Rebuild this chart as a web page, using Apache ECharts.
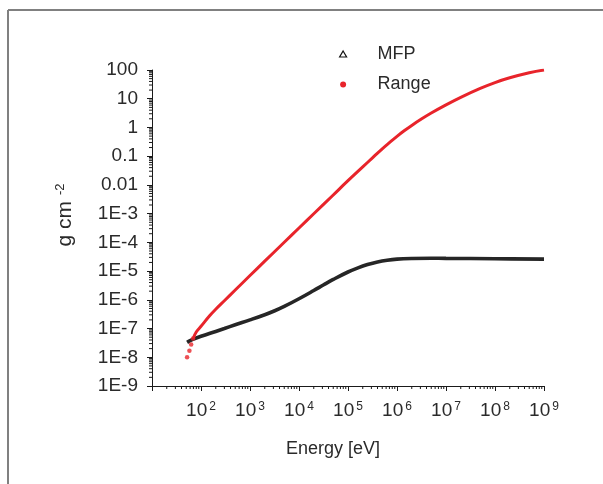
<!DOCTYPE html>
<html><head><meta charset="utf-8">
<script src="https://cdn.jsdelivr.net/npm/echarts@6/dist/echarts.min.js"></script>
<style>html,body{margin:0;padding:0;background:#fff}#c{width:603px;height:484px}</style>
</head><body><div id="c"></div><script>
// ---- data ----
const energyRange = [52, 58, 63, 69, 80, 100, 150, 200, 300, 500, 700, 1e3, 2e3, 5e3, 1e4, 2e4, 5e4, 1e5, 2e5, 3.2e5, 5e5, 7e5, 1e6, 1.4e6, 2e6, 3.2e6, 5e6, 1e7, 2e7, 5e7, 1e8, 2e8, 5e8, 1e9];
const rangeValues = [1.0e-8, 1.7e-8, 2.8e-8, 4.5e-8, 7.6e-8, 1.2e-7, 2.8e-7, 4.7e-7, 9.3e-7, 2.19e-6, 3.85e-6, 7.0e-6, 2.21e-5, 1.01e-4, 3.16e-4, 9.9e-4, 4.47e-3, 1.4e-2, 4.23e-2, 0.0895, 0.18, 0.295, 0.49, 0.764, 1.18, 2.0, 3.18, 6.12, 11.2, 22.9, 36.6, 53.6, 80.4, 100];
const rangeSparseCount = 4; // first low-energy points appear as separate dots

const energyMfp = [52, 60, 70, 100, 200, 300, 500, 1e3, 2e3, 3.2e3, 5e3, 1e4, 2e4, 3.2e4, 5e4, 1e5, 1.6e5, 2.5e5, 4e5, 6.3e5, 1e6, 2e6, 5e6, 1e7, 1e8, 1e9];
const mfpValues = [3.31e-8, 3.8e-8, 4.27e-8, 5.37e-8, 7.94e-8, 1.0e-7, 1.35e-7, 2.0e-7, 3.03e-7, 4.17e-7, 5.9e-7, 1.09e-6, 2.11e-6, 3.35e-6, 5.12e-6, 9.3e-6, 1.30e-5, 1.69e-5, 2.09e-5, 2.40e-5, 2.61e-5, 2.74e-5, 2.79e-5, 2.77e-5, 2.70e-5, 2.60e-5];

const seriesNames = ['MFP', 'Range'];
const yTickLabels = ['1E-9', '1E-8', '1E-7', '1E-6', '1E-5', '1E-4', '1E-3', '0.01', '0.1', '1', '10', '100'];
const xTickExponents = ['', '2', '3', '4', '5', '6', '7', '8', '9']; // for 10^1 .. 10^9
const xMin = 10, xMax = 1e9, yMin = 1e-9, yMax = 100;

// minor tick positions (2..9 within each decade)
const minorMult = [2, 3, 4, 5, 6, 7, 8, 9];
const minorX = [], minorY = [];
for (let d = 1; d < 9; d++) minorMult.forEach(m => minorX.push(m * Math.pow(10, d)));
for (let d = -9; d < 2; d++) minorMult.forEach(m => minorY.push(m * Math.pow(10, d)));

const FONT = '"Liberation Sans", Arial, sans-serif';
const RED = '#e8242b', BLACK = '#262626', TXT = '#2a2a2a';

const chart = echarts.init(document.getElementById('c'), null, {renderer: 'canvas'});
const zip = (a, b) => a.map((v, i) => [v, b[i]]);

chart.setOption({
  animation: false,
  backgroundColor: '#fff',
  grid: {left: 152, right: 59, top: 70, bottom: 98},
  legend: {
    orient: 'vertical', left: 334, top: 39,
    itemWidth: 7, itemHeight: 6, itemGap: 10.5, symbolKeepAspect: true,
    textStyle: {fontFamily: FONT, fontSize: 18, lineHeight: 20, color: TXT, padding: [0, 0, 0, 26]},
    data: [
      {name: seriesNames[0], icon: 'triangle', itemStyle: {color: '#fff', borderColor: '#111', borderWidth: 1.2}},
      {name: seriesNames[1], icon: 'circle', itemStyle: {color: RED, borderWidth: 0}}
    ]
  },
  xAxis: {
    type: 'log', logBase: 10, min: xMin, max: xMax, interval: 1,
    name: 'Energy [eV]', nameLocation: 'middle', nameGap: 54,
    nameTextStyle: {fontFamily: FONT, fontSize: 18, color: TXT, padding: [0, 30, 0, 0]},
    axisLine: {lineStyle: {color: '#1a1a1a', width: 1}},
    axisTick: {show: true, length: 5, inside: false, lineStyle: {color: '#1a1a1a'}},
    splitLine: {show: false},
    axisLabel: {
      margin: 15, color: TXT,
      formatter: v => {
        const e = Math.round(Math.log10(v));
        const s = xTickExponents[e - 1];
        return s ? '{b|10}{s|' + s + '}' : '';
      },
      rich: {
        b: {fontFamily: FONT, fontSize: 19, lineHeight: 20, color: TXT},
        s: {fontFamily: FONT, fontSize: 12, lineHeight: 20, verticalAlign: 'top', color: TXT, padding: [0, 0, 0, 2]}
      }
    }
  },
  yAxis: {
    type: 'log', logBase: 10, min: yMin, max: yMax, interval: 1,
    axisLine: {lineStyle: {color: '#1a1a1a', width: 1}},
    axisTick: {show: true, length: 5, inside: false, lineStyle: {color: '#1a1a1a'}},
    splitLine: {show: false},
    axisLabel: {
      margin: 14, color: TXT, fontFamily: FONT, fontSize: 19,
      formatter: v => yTickLabels[Math.round(Math.log10(v)) + 9] || ''
    }
  },
  graphic: [
    {type: 'line', shape: {x1: 8, y1: 10, x2: 603, y2: 10}, style: {stroke: '#808080', lineWidth: 2}, silent: true},
    {type: 'line', shape: {x1: 8, y1: 10, x2: 8, y2: 484}, style: {stroke: '#808080', lineWidth: 2}, silent: true},
    {
      type: 'text', x: 65, y: 215, rotation: Math.PI / 2, silent: true,
      style: {
        text: '{a|g cm }{s|-2}', align: 'center', verticalAlign: 'middle',
        rich: {
          a: {fontFamily: FONT, fontSize: 21, lineHeight: 22, fill: TXT},
          s: {fontFamily: FONT, fontSize: 13, lineHeight: 22, verticalAlign: 'top', fill: TXT}
        }
      }
    }
  ],
  series: [
    {
      name: seriesNames[0], type: 'line', smooth: 0.4, showSymbol: false, z: 3,
      lineStyle: {color: BLACK, width: 3.6}, itemStyle: {color: BLACK},
      data: zip(energyMfp, mfpValues)
    },
    {
      name: seriesNames[1], type: 'line', smooth: 0.4, showSymbol: false, z: 4,
      lineStyle: {color: RED, width: 3}, itemStyle: {color: RED},
      data: zip(energyRange, rangeValues).slice(rangeSparseCount - 1)
    },
    {
      name: seriesNames[1], type: 'scatter', symbol: 'circle', symbolSize: 4.5, z: 4,
      itemStyle: {color: RED},
      data: zip(energyRange, rangeValues).slice(0, rangeSparseCount)
    },
    {
      type: 'custom', silent: true, clip: false, z: 2,
      data: minorX.map(v => [v, yMin]),
      renderItem: (p, api) => {
        const pt = api.coord([api.value(0), api.value(1)]);
        return {type: 'line', shape: {x1: pt[0], y1: pt[1], x2: pt[0], y2: pt[1] + 3}, style: {stroke: '#1a1a1a', lineWidth: 1}};
      }
    },
    {
      type: 'custom', silent: true, clip: false, z: 2,
      data: minorY.map(v => [xMin, v]),
      renderItem: (p, api) => {
        const pt = api.coord([api.value(0), api.value(1)]);
        return {type: 'line', shape: {x1: pt[0] - 3, y1: pt[1], x2: pt[0], y2: pt[1]}, style: {stroke: '#1a1a1a', lineWidth: 1}};
      }
    }
  ]
});
</script></body></html>
